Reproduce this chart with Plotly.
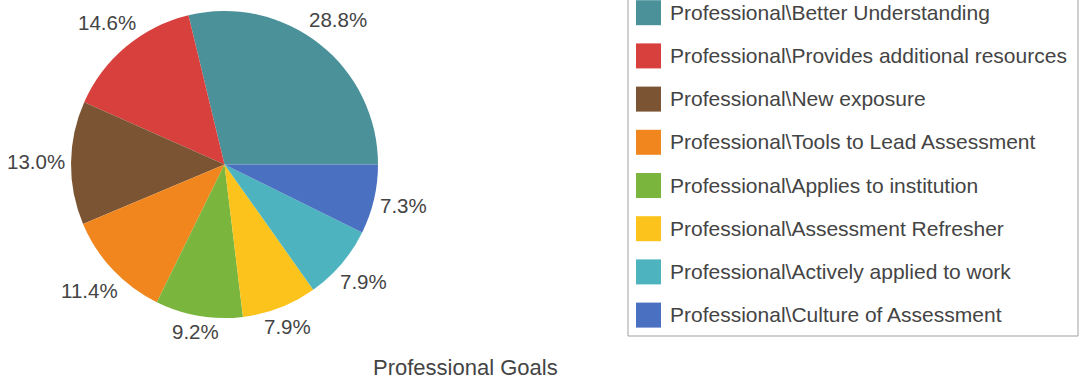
import math
import plotly.graph_objects as go

labels = [
    "Professional\\Better Understanding",
    "Professional\\Provides additional resources",
    "Professional\\New exposure",
    "Professional\\Tools to Lead Assessment",
    "Professional\\Applies to institution",
    "Professional\\Assessment Refresher",
    "Professional\\Actively applied to work",
    "Professional\\Culture of Assessment",
]
percent = [28.8, 14.6, 13.0, 11.4, 9.2, 7.9, 7.9, 7.3]
colors = ["#4a9199", "#d8403d", "#7b5533", "#f0861d", "#7ab63d",
          "#fbc31c", "#4db3bf", "#4a70c2"]
chart_title = "Professional Goals"

W, H = 1080, 379
FONT = "Liberation Sans, Arial, sans-serif"
TEXT = "#444444"
LABEL_SIZE = 20.5

# pie placement in pixels
CX, CY, R = 224.5, 164.5, 153.5

# counterclockwise pies in plotly place the first slice clockwise of the
# rotation angle; shift so the first slice starts at 3 o'clock and runs upward
total = sum(percent)
first_span = percent[0] / total * 360
rotation = 90 - first_span

pct_text = [f"{v:.1f}%" for v in percent]

fig = go.Figure(go.Pie(
    labels=labels,
    values=percent,
    text=pct_text,
    textinfo="none",
    sort=False,
    direction="counterclockwise",
    rotation=rotation,
    marker=dict(colors=colors, line=dict(width=0)),
    showlegend=False,
    hoverinfo="label+text",
    domain=dict(x=[(CX - R) / W, (CX + R) / W], y=[1 - (CY + R) / H, 1 - (CY - R) / H]),
))


def px(x):
    return x / W


def py(y):
    return 1 - y / H


# approximate advance widths (em) for the label glyphs
GLYPH_EM = {".": 0.278, "%": 0.889}


def text_width(s, size):
    return sum(GLYPH_EM.get(ch, 0.556) for ch in s) * size


annotations = []

# percentage labels set just outside each slice, along its mid angle
cum = 0.0
half_h = 7.5
gap = 6
for v, t in zip(percent, pct_text):
    mid = math.radians((cum + v / 2) / total * 360)
    cum += v
    ux, uy = math.cos(mid), -math.sin(mid)
    half_w = text_width(t, LABEL_SIZE) / 2
    d = R + gap + abs(ux) * half_w + abs(uy) * half_h
    annotations.append(dict(x=px(CX + ux * d), y=py(CY + uy * d - 1), xref="paper", yref="paper",
                            text=t, showarrow=False, xanchor="center", yanchor="middle",
                            font=dict(family=FONT, size=LABEL_SIZE, color=TEXT)))

# legend panel
shapes = [dict(type="rect", xref="paper", yref="paper",
               x0=px(628), x1=px(1078), y0=py(336), y1=py(-5),
               line=dict(color="#a0a0a0", width=1), fillcolor="white", layer="below")]
row0, step = 12.7, 43.2
for i, (lab, col) in enumerate(zip(labels, colors)):
    yc = row0 + i * step
    shapes.append(dict(type="rect", xref="paper", yref="paper",
                       x0=px(636), x1=px(661), y0=py(yc + 12.5), y1=py(yc - 12.5),
                       line=dict(width=0), fillcolor=col))
    annotations.append(dict(x=px(668), y=py(yc - 0.5), xref="paper", yref="paper",
                            text=lab, showarrow=False, xanchor="left", yanchor="middle",
                            font=dict(family=FONT, size=21, color=TEXT)))

annotations.append(dict(x=px(465), y=py(367), xref="paper", yref="paper",
                        text=chart_title, showarrow=False, xanchor="center",
                        yanchor="middle", font=dict(family=FONT, size=22, color=TEXT)))

fig.update_layout(
    width=W, height=H,
    margin=dict(l=0, r=0, t=0, b=0),
    paper_bgcolor="white",
    plot_bgcolor="white",
    shapes=shapes,
    annotations=annotations,
)

fig.write_html("out.html")
